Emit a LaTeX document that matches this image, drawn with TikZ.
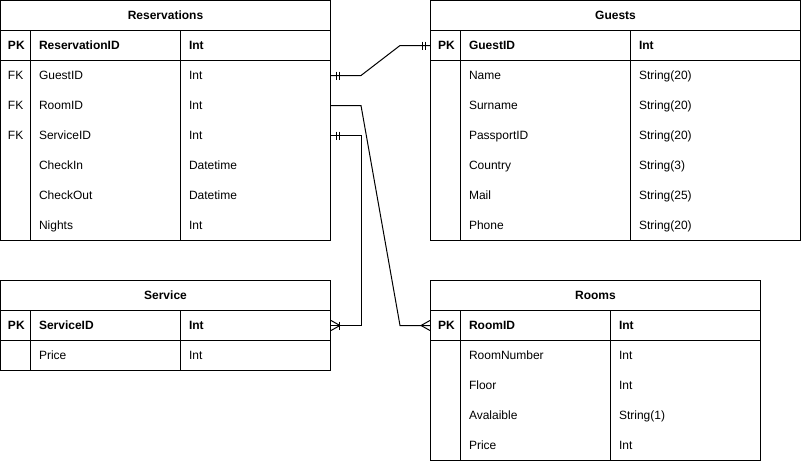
\documentclass[tikz,border=0pt]{standalone}
\usepackage{fontspec}
\setmainfont{Liberation Sans}
\begin{document}
\begin{tikzpicture}[x=1pt,y=-1pt,line width=1pt,
  frame/.style={draw=black,line width=1pt},
  ttl/.style={font=\fontsize{12}{14}\selectfont\bfseries,inner sep=0pt,anchor=base},
  cell/.style={font=\fontsize{12}{14}\selectfont,inner sep=0pt,anchor=base west},
  hcell/.style={font=\fontsize{12}{14}\selectfont\bfseries,inner sep=0pt,anchor=base west},
  rowbox/.style={inner sep=0pt,minimum height=30pt,minimum width=#1},
  link/.style={draw=black,line width=1pt},
]
\useasboundingbox (-0.5,-0.5) rectangle (800.5,460.5);

% ---------- Reservations ----------
\draw[frame] (0,0) rectangle (330,240);
\draw[frame] (0,30) -- (330,30) (0,60) -- (330,60) (30,30) -- (30,240) (180,30) -- (180,240);
\node[ttl] (res-title) at (165,18.5) {Reservations};
\node[hcell] (res-pk-k) at (7,48.5) {PK};
\node[hcell] (res-pk-f) at (38,48.5) {ReservationID};
\node[hcell] (res-pk-t) at (188,48.5) {Int};
\foreach \k/\f/\t [count=\i] in {FK/GuestID/Int,FK/RoomID/Int,FK/ServiceID/Int,/CheckIn/Datetime,/CheckOut/Datetime,/Nights/Int}{
  \node[cell] (res-k\i) at (7,48.5+30*\i) {\k};
  \node[cell] (res-f\i) at (38,48.5+30*\i) {\f};
  \node[cell] (res-t\i) at (188,48.5+30*\i) {\t};
}
\node[rowbox=330pt] (res-guest) at (165,75) {};
\node[rowbox=330pt] (res-room) at (165,105) {};
\node[rowbox=330pt] (res-svc) at (165,135) {};

% ---------- Guests ----------
\draw[frame] (430,0) rectangle (800,240);
\draw[frame] (430,30) -- (800,30) (430,60) -- (800,60) (460,30) -- (460,240) (630,30) -- (630,240);
\node[ttl] (gst-title) at (615,18.5) {Guests};
\node[hcell] (gst-pk-k) at (437,48.5) {PK};
\node[hcell] (gst-pk-f) at (468,48.5) {GuestID};
\node[hcell] (gst-pk-t) at (638,48.5) {Int};
\foreach \f/\t [count=\i] in {Name/String(20),Surname/String(20),PassportID/String(20),Country/String(3),Mail/String(25),Phone/String(20)}{
  \node[cell] (gst-f\i) at (468,48.5+30*\i) {\f};
  \node[cell] (gst-t\i) at (638,48.5+30*\i) {\t};
}
\node[rowbox=370pt] (gst-pk) at (615,45) {};

% ---------- Service ----------
\draw[frame] (0,280) rectangle (330,370);
\draw[frame] (0,310) -- (330,310) (0,340) -- (330,340) (30,310) -- (30,370) (180,310) -- (180,370);
\node[ttl] (svc-title) at (165,298.5) {Service};
\node[hcell] (svc-pk-k) at (7,328.5) {PK};
\node[hcell] (svc-pk-f) at (38,328.5) {ServiceID};
\node[hcell] (svc-pk-t) at (188,328.5) {Int};
\node[cell] (svc-f1) at (38,358.5) {Price};
\node[cell] (svc-t1) at (188,358.5) {Int};
\node[rowbox=330pt] (svc-pk) at (165,325) {};

% ---------- Rooms ----------
\draw[frame] (430,280) rectangle (760,460);
\draw[frame] (430,310) -- (760,310) (430,340) -- (760,340) (460,310) -- (460,460) (610,310) -- (610,460);
\node[ttl] (rom-title) at (595,298.5) {Rooms};
\node[hcell] (rom-pk-k) at (437,328.5) {PK};
\node[hcell] (rom-pk-f) at (468,328.5) {RoomID};
\node[hcell] (rom-pk-t) at (618,328.5) {Int};
\foreach \f/\t [count=\i] in {RoomNumber/Int,Floor/Int,Avalaible/String(1),Price/Int}{
  \node[cell] (rom-f\i) at (468,328.5+30*\i) {\f};
  \node[cell] (rom-t\i) at (618,328.5+30*\i) {\t};
}
\node[rowbox=330pt] (rom-pk) at (595,325) {};

% ---------- Relationships ----------
% Reservations.GuestID -- Guests.GuestID (one and only one at both ends)
\draw[link] (res-guest.east) -- ++(30,0) -- ([xshift=-30pt]gst-pk.west) -- (gst-pk.west);
\draw[link] ([xshift=5pt,yshift=4pt]res-guest.east) -- ([xshift=5pt,yshift=-4pt]res-guest.east);
\draw[link] ([xshift=8pt,yshift=4pt]res-guest.east) -- ([xshift=8pt,yshift=-4pt]res-guest.east);
\draw[link] ([xshift=-5pt,yshift=4pt]gst-pk.west) -- ([xshift=-5pt,yshift=-4pt]gst-pk.west);
\draw[link] ([xshift=-8pt,yshift=4pt]gst-pk.west) -- ([xshift=-8pt,yshift=-4pt]gst-pk.west);

% Reservations.RoomID -- Rooms.RoomID (many)
\draw[link] (res-room.east) -- ++(30,0) -- ([xshift=-30pt]rom-pk.west) -- (rom-pk.west);
\draw[link] ([yshift=5pt]rom-pk.west) -- ([xshift=-9pt]rom-pk.west) -- ([yshift=-5pt]rom-pk.west);

% Reservations.ServiceID -- Service.ServiceID (one to many)
\draw[link] (res-svc.east) -- ++(30,0) |- (svc-pk.east);
\draw[link] ([xshift=5pt,yshift=4pt]res-svc.east) -- ([xshift=5pt,yshift=-4pt]res-svc.east);
\draw[link] ([xshift=8pt,yshift=4pt]res-svc.east) -- ([xshift=8pt,yshift=-4pt]res-svc.east);
\draw[link] ([yshift=5pt]svc-pk.east) -- ([xshift=9pt]svc-pk.east) -- ([yshift=-5pt]svc-pk.east);
\draw[link] ([xshift=8pt,yshift=4pt]svc-pk.east) -- ([xshift=8pt,yshift=-4pt]svc-pk.east);
\end{tikzpicture}
\end{document}
